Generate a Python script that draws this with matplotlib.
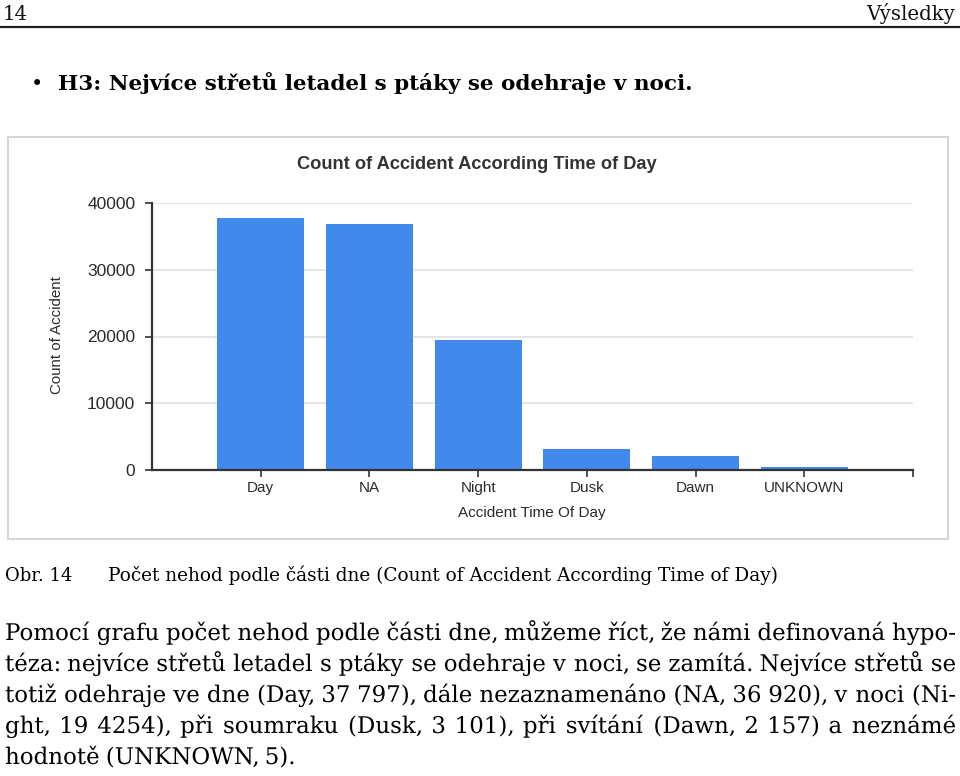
import matplotlib
matplotlib.use("Agg")
import matplotlib.pyplot as plt
from matplotlib.patches import Rectangle, PathPatch
from matplotlib.lines import Line2D
from matplotlib.textpath import TextPath
from matplotlib.font_manager import FontProperties
from matplotlib.transforms import Affine2D

# chart data
categories = ["Day", "NA", "Night", "Dusk", "Dawn", "UNKNOWN"]
counts = [37797, 36920, 19425, 3101, 2157, 420]
y_ticks = [0, 10000, 20000, 30000, 40000]

# page text
header_left = "14"
header_right = "Výsledky"
hypothesis = "H3: Nejvíce střetů letadel s ptáky se odehraje v noci."
caption_num = "Obr. 14"
caption_text = "Počet nehod podle části dne (Count of Accident According Time of Day)"
paragraph = [
    "Pomocí grafu počet nehod podle části dne, můžeme říct, že námi definovaná hypo-",
    "téza: nejvíce střetů letadel s ptáky se odehraje v noci, se zamítá. Nejvíce střetů se",
    "totiž odehraje ve dne (Day, 37 797), dále nezaznamenáno (NA, 36 920), v noci (Ni-",
    "ght, 19 4254), při soumraku (Dusk, 3 101), při svítání (Dawn, 2 157) a neznámé",
    "hodnotě (UNKNOWN, 5).",
]

W, H = 960, 776
SERIF = "DejaVu Serif"
SANS = "Liberation Sans"
BAR_COLOR = "#4189ec"
TEXT_DARK = "#2b2b2b"

fig = plt.figure(figsize=(W / 100, H / 100), dpi=100)
fig.patch.set_facecolor("white")
renderer = fig.canvas.get_renderer()


def fx(x):
    return x / W


def fy(y):
    return 1 - y / H


def width_px(t):
    return t.get_window_extent(renderer).width


def fit_text(x0, x1, y, text, **kw):
    # scale font size so the text spans x0..x1 pixels
    t = fig.text(fx(x0), fy(y), text, fontsize=10, va="baseline", **kw)
    w = width_px(t)
    t.set_fontsize(10 * (x1 - x0) / w)
    return t


# header
right = fit_text(866, 955, 20, header_right, family=SERIF, color="#111111")
fig.text(fx(3), fy(20), header_left, fontsize=right.get_fontsize(), family=SERIF,
         color="#111111", va="baseline")
fig.add_artist(Line2D([0, 1], [fy(26.5), fy(26.5)], color="#222222", lw=1.6,
                      transform=fig.transFigure))

# hypothesis bullet
fig.text(fx(37), fy(84), "\u2022", fontsize=15, ha="center", va="center",
         color="black", family="DejaVu Sans")
fit_text(58, 695, 90, hypothesis, family=SERIF, weight="bold", color="black")

# chart frame
fig.add_artist(Rectangle((fx(8), fy(539)), fx(940), 402 / H, fill=False,
                         edgecolor="#d6d6d6", lw=1.5, transform=fig.transFigure))

ax = fig.add_axes([fx(152), fy(470), fx(913 - 152), 267 / H])
x = list(range(len(categories)))
ax.bar(x, counts, width=0.8, color=BAR_COLOR, zorder=2)
ax.set_xlim(-1, 6)
ax.set_ylim(0, 40000)
ax.set_yticks(y_ticks)
ax.set_yticklabels([str(v) for v in y_ticks], family=SANS, fontsize=12.5, color=TEXT_DARK)
ax.set_xticks(x)
ax.set_xticklabels(categories, family=SANS, fontsize=11, color=TEXT_DARK)
ax.set_xticks([6], minor=True)
ax.tick_params(axis="y", length=5, width=1.2, color="#333333", pad=7)
ax.tick_params(axis="x", which="both", length=5, width=1.2, color="#333333", pad=3)
ax.grid(axis="y", color="#e3e3e3", lw=1.3, zorder=0)
for side in ["top", "right"]:
    ax.spines[side].set_visible(False)
for side in ["left", "bottom"]:
    ax.spines[side].set_color("#333333")
    ax.spines[side].set_linewidth(1.6)

ax.set_xlabel("Accident Time Of Day", family=SANS, fontsize=11, color=TEXT_DARK)
ax.xaxis.set_label_coords(0.499, -0.133)
ax.set_ylabel("Count of Accident", family=SANS, fontsize=10.8, color=TEXT_DARK)
ax.yaxis.set_label_coords(-0.115, 0.506)

title = fit_text(297, 657, 169, "Count of Accident According Time of Day",
                 family=SANS, weight="bold", color="#333333")

# caption
fit_text(5, 72, 581, caption_num, family=SERIF, color="black")
fit_text(108, 783, 581, caption_text, family=SERIF, color="black")

# justified paragraph, words drawn as text paths so they share one baseline
X0, X1 = 5, 955
baselines = [640, 671, 702, 733, 764]
serif_prop = FontProperties(family=SERIF)


def word_path(word, size):
    return TextPath((0, 0), word, size=size, prop=serif_prop)


def advance(s, size):
    return word_path(s, size).get_extents().x1


space10 = advance("a a", 10) - advance("aa", 10)

ratios = []
for line in paragraph[:-1]:
    words = line.split(" ")
    natural = sum(advance(w, 10) for w in words) + space10 * (len(words) - 1)
    ratios.append((X1 - X0) / natural)
size = 10 * min(ratios) * 0.997
space = space10 * size / 10

px_to_fig = Affine2D().scale(1 / 100) + fig.dpi_scale_trans
for i, (line, base) in enumerate(zip(paragraph, baselines)):
    words = line.split(" ")
    paths = [word_path(w, size) for w in words]
    widths = [p.get_extents().x1 for p in paths]
    if i < len(paragraph) - 1 and len(words) > 1:
        gap = (X1 - X0 - sum(widths)) / (len(words) - 1)
    else:
        gap = space
    pos = X0
    for p, w in zip(paths, widths):
        tr = Affine2D().translate(pos, H - base) + px_to_fig
        fig.add_artist(PathPatch(p, facecolor="black", edgecolor="none", lw=0,
                                 transform=tr))
        pos += w + gap

fig.savefig("out.png", dpi=100)
